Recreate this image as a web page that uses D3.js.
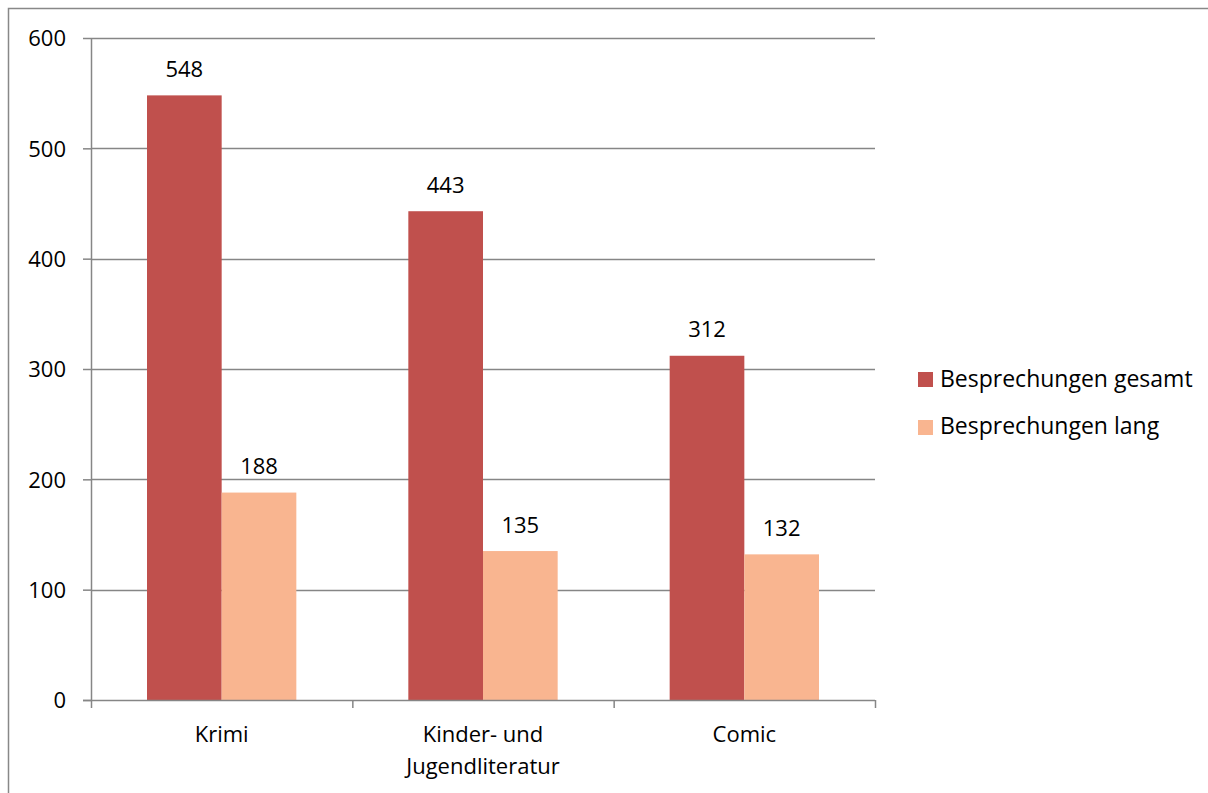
<!DOCTYPE html>
<html><head><meta charset="utf-8">
<script src="https://cdn.jsdelivr.net/npm/d3@7"></script>
<style>body{margin:0;background:#fff}svg{display:block}text{font-family:"Open Sans",sans-serif;fill:#000}</style>
</head><body><svg id="c" width="1208" height="793"></svg>
<script>
const categories = [["Krimi"], ["Kinder- und", "Jugendliteratur"], ["Comic"]];
const seriesNames = ["Besprechungen gesamt", "Besprechungen lang"];
const gesamt = [548, 443, 312];
const lang = [188, 135, 132];
const yTicks = [0, 100, 200, 300, 400, 500, 600];
const colors = ["#C0504D", "#F9B590"];
const FS = 22;

const svg = d3.select("#c");
const L = 91, R = 875, T = 38, B = 700;
// outer border
svg.append("rect").attr("x", 8.5).attr("y", 8.5).attr("width", 1250).attr("height", 900)
  .attr("fill", "none").attr("stroke", "#888").attr("stroke-width", 1.5);

const x0 = d3.scaleBand().domain(d3.range(categories.length)).range([L, R]).paddingInner(0).paddingOuter(0);
const bw = x0.bandwidth() / 3.5;
const y = d3.scaleLinear().domain([0, 600]).range([B, T]);

// gridlines
svg.append("g").selectAll("line").data(yTicks.filter(d => d > 0)).join("line")
  .attr("x1", L).attr("x2", R).attr("y1", d => Math.round(y(d)) + 0.5).attr("y2", d => Math.round(y(d)) + 0.5)
  .attr("stroke", "#868686").attr("stroke-width", 1.3);

// bars
const series = [gesamt, lang];
series.forEach((vals, si) => {
  svg.append("g").selectAll("rect").data(vals).join("rect")
    .attr("x", (d, i) => x0(i) + 0.75 * bw + si * bw)
    .attr("y", d => y(d)).attr("width", bw).attr("height", d => B - y(d))
    .attr("fill", colors[si]);
  svg.append("g").selectAll("text").data(vals).join("text")
    .attr("x", (d, i) => x0(i) + 0.75 * bw + si * bw + bw / 2)
    .attr("y", d => y(d) - 18.5).attr("text-anchor", "middle").attr("font-size", FS)
    .text(d => d);
});

// axes
const yAxis = d3.axisLeft(y).tickValues(yTicks).tickSize(8).tickPadding(17);
const gy = svg.append("g").attr("transform", `translate(${L},0)`).call(yAxis);
gy.selectAll("text").attr("font-size", FS).attr("dy", "0.36em").style("font-family", "'Open Sans',sans-serif");
gy.select(".domain").attr("d", `M0.5,${T}V${B}`);

const gx = svg.append("g").attr("transform", `translate(0,${B})`);
gx.append("line").attr("x1", L - 8).attr("x2", R).attr("y1", 0.5).attr("y2", 0.5);
const tickXs = d3.range(categories.length + 1).map(i => i < categories.length ? x0(i) : R);
gx.selectAll("line.t").data(tickXs).join("line").attr("class", "t")
  .attr("x1", d => d + 0.5).attr("x2", d => d + 0.5).attr("y1", 0).attr("y2", 8);
gx.selectAll("line").attr("stroke", "#868686").attr("stroke-width", 1.5);
gy.selectAll("line").attr("stroke", "#868686").attr("stroke-width", 1.5);
gy.select(".domain").attr("stroke", "#868686").attr("stroke-width", 1.5);

categories.forEach((lines, i) => {
  const t = gx.append("text").attr("text-anchor", "middle").attr("font-size", FS)
    .attr("x", x0(i) + x0.bandwidth() / 2).attr("y", 42);
  lines.forEach((ln, j) => t.append("tspan").attr("x", x0(i) + x0.bandwidth() / 2).attr("dy", j ? 32 : 0).text(ln));
});

// legend
const lg = svg.append("g").attr("transform", "translate(918,372)");
seriesNames.forEach((n, i) => {
  lg.append("rect").attr("x", 0).attr("y", i * 48).attr("width", 15).attr("height", 15).attr("fill", colors[i]);
  lg.append("text").attr("x", 22).attr("y", i * 47 + 15).attr("font-size", 23).text(n);
});
</script></body></html>
